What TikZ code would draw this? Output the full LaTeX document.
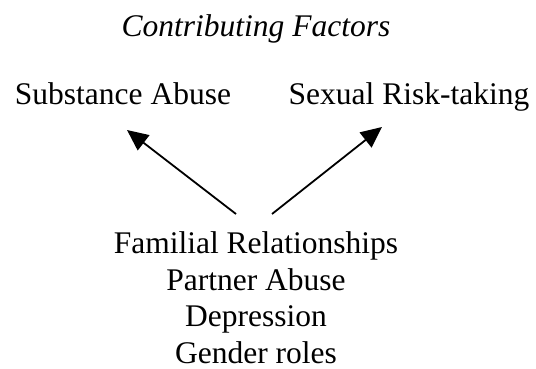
\documentclass[tikz,border=0pt]{standalone}
\usepackage{fontspec}
\setmainfont{Liberation Serif}
\usetikzlibrary{arrows.meta,positioning}

\begin{document}
\begin{tikzpicture}[x=1pt,y=-1pt,
	label/.style={inner sep=0pt,align=center,font=\fontsize{31.5}{36.7}\selectfont},
	to/.style={-{Triangle[length=21pt,width=19pt]},line width=1.8pt}]
\useasboundingbox (0,0) rectangle (536,369);

\node[label,anchor=base,font=\fontsize{31.5}{36.7}\selectfont\itshape] (title) at (256,37) {Contributing Factors};
\node[label,anchor=base] (subst) at (123,104) {Substance Abuse};
\node[label,anchor=base] (sexual) at (409,104) {Sexual Risk-taking};
\node[label,anchor=north] (factors) at (256,231.5)
	{Familial Relationships\\ Partner Abuse\\ Depression\\ Gender roles};

\coordinate (lfoot) at (236,214);
\coordinate (rfoot) at (272,214);
\coordinate (ltip) at (127,130);
\coordinate (rtip) at (382,127);

\draw[to] (lfoot) -- (ltip);
\draw[to] (rfoot) -- (rtip);

\end{tikzpicture}
\end{document}
